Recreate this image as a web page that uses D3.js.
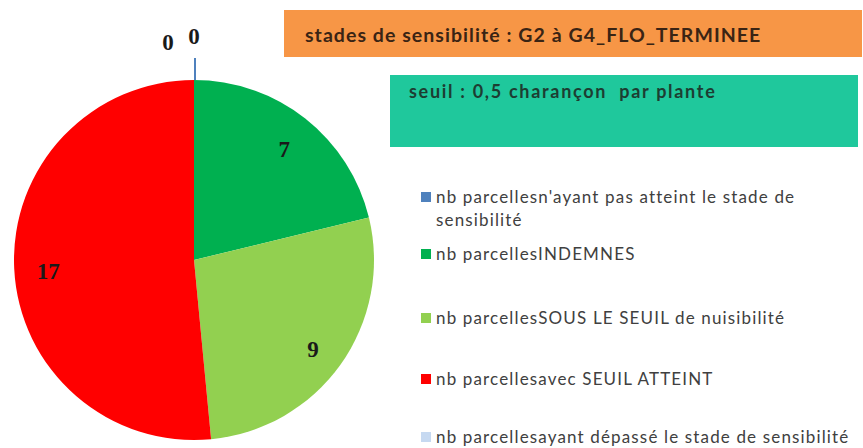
<!DOCTYPE html>
<html>
<head>
<meta charset="utf-8">
<script src="https://cdn.jsdelivr.net/npm/d3@7"></script>
<style>
  body { margin: 0; background: #fff; }
  svg { display: block; }
  text { white-space: pre; }
</style>
</head>
<body>
<svg id="chart"></svg>
<script>
let width = 863
let height = 448

// data
let categories = [
  "nb parcellesn'ayant pas atteint le stade de|sensibilité",
  "nb parcellesINDEMNES",
  "nb parcellesSOUS LE SEUIL de nuisibilité",
  "nb parcellesavec SEUIL ATTEINT",
  "nb parcellesayant dépassé le stade de sensibilité"
]
let values = [0, 7, 9, 17, 0]
let colors = ["#4f81bd", "#00b050", "#92d050", "#ff0000", "#c6d9f1"]
let titleText = "stades de sensibilité : G2 à G4_FLO_TERMINEE"
let seuilText = "seuil : 0,5 charançon  par plante"

let cx = 194
let cy = 260
let radius = 180

let svg = d3.select("#chart")
svg.attr("width", width).attr("height", height)

// header boxes
svg.append("rect")
   .attr("x", 284).attr("y", 10)
   .attr("width", 578).attr("height", 47)
   .attr("fill", "#f79646")
svg.append("text")
   .attr("x", 305).attr("y", 42)
   .attr("font-family", "Lato, 'Open Sans', sans-serif")
   .attr("font-weight", "bold")
   .attr("font-size", 19.5)
   .attr("letter-spacing", 1.05)
   .attr("fill", "#3a2414")
   .text(titleText)

svg.append("rect")
   .attr("x", 390).attr("y", 75)
   .attr("width", 468).attr("height", 72)
   .attr("fill", "#1fc89c")
svg.append("text")
   .attr("x", 409).attr("y", 98)
   .attr("font-family", "Lato, 'Open Sans', sans-serif")
   .attr("font-weight", "bold")
   .attr("font-size", 18)
   .attr("letter-spacing", 1.7)
   .attr("fill", "#1d3d32")
   .text(seuilText)

// pie
let pie = d3.pie().sort(null).value(d => d)
let arcs = pie(values)
let arc = d3.arc().innerRadius(0).outerRadius(radius)
let labelArc = d3.arc().innerRadius(146).outerRadius(146)

let g = svg.append("g").attr("transform", "translate(" + cx + "," + cy + ")")

g.selectAll("path")
 .data(arcs)
 .enter()
 .append("path")
 .attr("d", arc)
 .attr("fill", (d, i) => colors[i])
 .attr("stroke", "none")

// leader line for the first zero slice
let first = arcs[0]
let leaderIn = d3.arc().innerRadius(radius).outerRadius(radius).centroid(first)
let leaderOut = d3.arc().innerRadius(radius + 22).outerRadius(radius + 22).centroid(first)
g.append("line")
 .attr("x1", leaderIn[0] + 1).attr("y1", leaderIn[1])
 .attr("x2", leaderOut[0] + 1).attr("y2", leaderOut[1])
 .attr("stroke", "#4f81bd")
 .attr("stroke-width", 2)

g.selectAll("text.val")
 .data(arcs)
 .enter()
 .append("text")
 .attr("class", "val")
 .attr("transform", (d, i) => {
   if (d.data === 0) {
     let p = d3.arc().innerRadius(radius + 44).outerRadius(radius + 44).centroid(d)
     let dx = i === 0 ? 0 : -26
     let dy = i === 0 ? 0 : 6
     return "translate(" + (p[0] + dx) + "," + (p[1] + dy) + ")"
   }
   let p = labelArc.centroid(d)
   return "translate(" + p[0] + "," + (p[1] + 4) + ")"
 })
 .attr("text-anchor", "middle")
 .attr("dy", "0.35em")
 .attr("font-family", "'Liberation Serif', 'DejaVu Serif', serif")
 .attr("font-weight", "bold")
 .attr("font-size", 23)
 .attr("fill", "#1a1a1a")
 .text(d => d.data)

// legend
let legendY = [197, 254, 318, 379, 437]
let legend = svg.append("g")
let items = legend.selectAll("g")
  .data(categories)
  .enter()
  .append("g")
  .attr("transform", (d, i) => "translate(421," + legendY[i] + ")")

items.append("rect")
  .attr("x", 0).attr("y", -5)
  .attr("width", 10).attr("height", 10)
  .attr("fill", (d, i) => colors[i])

items.each(function(d) {
  let lines = d.split("|")
  let t = d3.select(this).append("text")
    .attr("font-family", "Lato, 'Open Sans', sans-serif")
    .attr("font-size", 17)
    .attr("letter-spacing", 1.15)
    .attr("fill", "#404040")
  lines.forEach((ln, k) => {
    t.append("tspan")
     .attr("x", 15)
     .attr("y", k * 23)
     .attr("dy", "0.35em")
     .text(ln)
  })
})
</script>
</body>
</html>
